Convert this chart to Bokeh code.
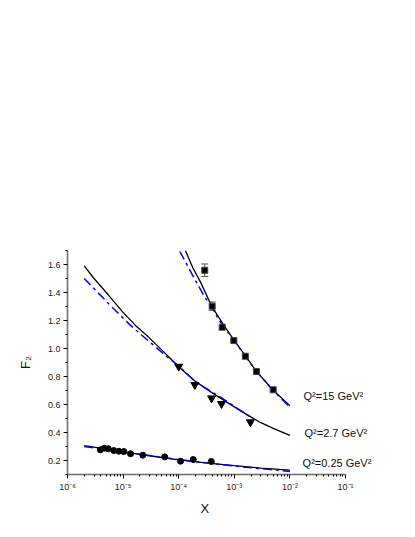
from bokeh.plotting import figure
from bokeh.models import (FixedTicker, CustomJSTickFormatter, Label, Whisker,
                          ColumnDataSource, TeeHead, Title)
from bokeh.embed import file_html
from bokeh.resources import INLINE

# ---------------- data ----------------
# Q^2 = 0.25 GeV^2 : circles
x_q025 = [3.9e-6, 4.6e-6, 5.4e-6, 6.8e-6, 8.4e-6, 1.03e-5, 1.36e-5, 2.26e-5, 5.6e-5, 1.08e-4, 1.82e-4, 3.85e-4]
f_q025 = [0.276, 0.288, 0.284, 0.271, 0.266, 0.264, 0.248, 0.238, 0.226, 0.195, 0.207, 0.193]
# Q^2 = 2.7 GeV^2 : inverted triangles
x_q27 = [1.0e-4, 1.95e-4, 3.9e-4, 5.9e-4, 1.95e-3]
f_q27 = [0.871, 0.741, 0.645, 0.605, 0.474]
# Q^2 = 15 GeV^2 : squares with errors
x_q15 = [2.94e-4, 4.0e-4, 6.05e-4, 9.8e-4, 1.58e-3, 2.5e-3, 5.0e-3]
f_q15 = [1.559, 1.302, 1.152, 1.057, 0.945, 0.836, 0.705]
e_q15 = [0.045, 0.03, 0.0, 0.0, 0.0, 0.0, 0.0]

# model curves: solid black
cx_025 = [2e-6, 5e-6, 1e-5, 3e-5, 1e-4, 3e-4, 1e-3, 3e-3, 1e-2]
cy_025 = [0.307, 0.281, 0.262, 0.234, 0.205, 0.183, 0.163, 0.146, 0.131]
cx_27 = [2e-6, 3e-6, 5.5e-6, 9.6e-6, 1.67e-5, 2.8e-5, 4.4e-5, 1e-4, 2e-4, 4e-4, 1e-3, 2e-3, 3e-3, 5e-3, 1e-2]
cy_27 = [1.59, 1.50, 1.38, 1.265, 1.165, 1.085, 1.01, 0.87, 0.765, 0.683, 0.583, 0.51, 0.47, 0.43, 0.379]
cx_15 = [1.32e-4, 1.8e-4, 2.47e-4, 4.0e-4, 6.5e-4, 9.8e-4, 1.6e-3, 2.48e-3, 4.9e-3, 1e-2]
cy_15 = [1.70, 1.575, 1.474, 1.295, 1.165, 1.062, 0.945, 0.838, 0.705, 0.592]

# model curves: blue dash-dot
bx_025 = [2e-6, 1e-5, 1e-4, 1e-3, 1e-2]
by_025 = [0.30, 0.26, 0.207, 0.16, 0.122]
bx_27 = [2e-6, 5.5e-6, 1.27e-5, 2.2e-5, 5.8e-5, 1e-4, 2e-4, 5.65e-4, 1.7e-3, 2.2e-3]
by_27 = [1.50, 1.32, 1.176, 1.093, 0.95, 0.875, 0.762, 0.652, 0.526, 0.50]
bx_15 = [1.05e-4, 2.0e-4, 2.83e-4, 3.73e-4, 5.65e-4, 1e-3, 2.5e-3, 5e-3, 1e-2]
by_15 = [1.693, 1.486, 1.379, 1.307, 1.188, 1.055, 0.835, 0.70, 0.58]

x_ticks = [1e-6, 1e-5, 1e-4, 1e-3, 1e-2, 1e-1]
y_ticks = [0.2, 0.4, 0.6, 0.8, 1.0, 1.2, 1.4, 1.6]
labels = ["Q\u00b2=15 GeV\u00b2", "Q\u00b2=2.7 GeV\u00b2", "Q\u00b2=0.25 GeV\u00b2"]

FONT = "Liberation Sans"

p = figure(x_axis_type="log", x_range=(1e-6, 0.376), y_range=(0.1, 1.7),
           frame_width=310, frame_height=224,
           min_border_left=67, min_border_top=250, min_border_right=20,
           min_border_bottom=20,
           output_backend="svg", toolbar_location=None)
p.grid.visible = False
p.outline_line_color = None

# curves
p.line(cx_025, cy_025, line_color="black", line_width=1.3)
p.line(cx_27, cy_27, line_color="black", line_width=1.3)
p.line(cx_15, cy_15, line_color="black", line_width=1.3)
for bx, by in [(bx_025, by_025), (bx_27, by_27), (bx_15, by_15)]:
    p.line(bx, by, line_color="#0000ff", line_width=1.5, line_dash="9 4 3 4")

# error bars
ex = [x for x, e in zip(x_q15, e_q15) if e > 0]
ey = [f for f, e in zip(f_q15, e_q15) if e > 0]
ee = [e for e in e_q15 if e > 0]
esrc = ColumnDataSource(dict(x=ex, lo=[a - b for a, b in zip(ey, ee)], hi=[a + b for a, b in zip(ey, ee)]))
w = Whisker(base="x", lower="lo", upper="hi", source=esrc, line_color="#555555", line_width=1,
            upper_head=TeeHead(size=7, line_color="#555555"),
            lower_head=TeeHead(size=7, line_color="#555555"))
p.add_layout(w)

# markers
p.scatter(x_q025, f_q025, marker="circle", size=6, fill_color="black", line_color="black")
p.scatter(x_q27, f_q27, marker="inverted_triangle", size=8, fill_color="black", line_color="black")
p.scatter(x_q15, f_q15, marker="square", size=6, fill_color="black", line_color="#444444")

# labels
for txt, lx, ly in zip(labels, [0.0176, 0.0183, 0.0169], [0.664, 0.40, 0.179]):
    p.add_layout(Label(x=lx, y=ly, text=txt, text_font=FONT, text_font_size="11px",
                       text_baseline="middle", text_align="left", text_color="#111111"))

# axes
xa = p.xaxis[0]
xa.ticker = FixedTicker(ticks=x_ticks,
                        minor_ticks=[m * t for t in x_ticks[:-1] for m in range(2, 10)])
xa.bounds = (1e-6, 1e-1)
xa.formatter = CustomJSTickFormatter(code="""
const sup = {'-':'\u207b','0':'\u2070','1':'\u00b9','2':'\u00b2','3':'\u00b3','4':'\u2074',
             '5':'\u2075','6':'\u2076','7':'\u2077','8':'\u2078','9':'\u2079'};
const e = Math.round(Math.log10(tick));
return '10' + String(e).split('').map(c => sup[c]).join('');
""")
ya = p.yaxis[0]
ya.ticker = FixedTicker(ticks=y_ticks, minor_ticks=[0.1, 0.3, 0.5, 0.7, 0.9, 1.1, 1.3, 1.5, 1.7])
ya.bounds = (0.1, 1.7)
ya.formatter = CustomJSTickFormatter(code="return tick.toFixed(1);")
ya.axis_label = "F\u2082"

for ax in (xa, ya):
    ax.axis_line_color = "#6e6e6e"
    ax.axis_line_width = 1.6
    ax.major_tick_line_color = "black"
    ax.minor_tick_line_color = "black"
    ax.major_tick_out = 4
    ax.major_tick_in = 0
    ax.minor_tick_out = 2
    ax.minor_tick_in = 0
    ax.major_label_text_font = FONT
    ax.major_label_text_font_size = "9px"
    ax.major_label_text_color = "#222222"
    ax.axis_label_text_font = FONT
    ax.axis_label_text_font_size = "13px"
    ax.axis_label_text_font_style = "normal"
    ax.axis_label_text_color = "#111111"
    ax.major_label_standoff = 3
ya.axis_label_standoff = 12

p.add_layout(Title(text="X", align="left", offset=133, standoff=8, text_font=FONT,
                   text_font_size="13px", text_font_style="normal", text_color="#111111"),
             "below")

open("out.html", "w").write(file_html(p, INLINE))
